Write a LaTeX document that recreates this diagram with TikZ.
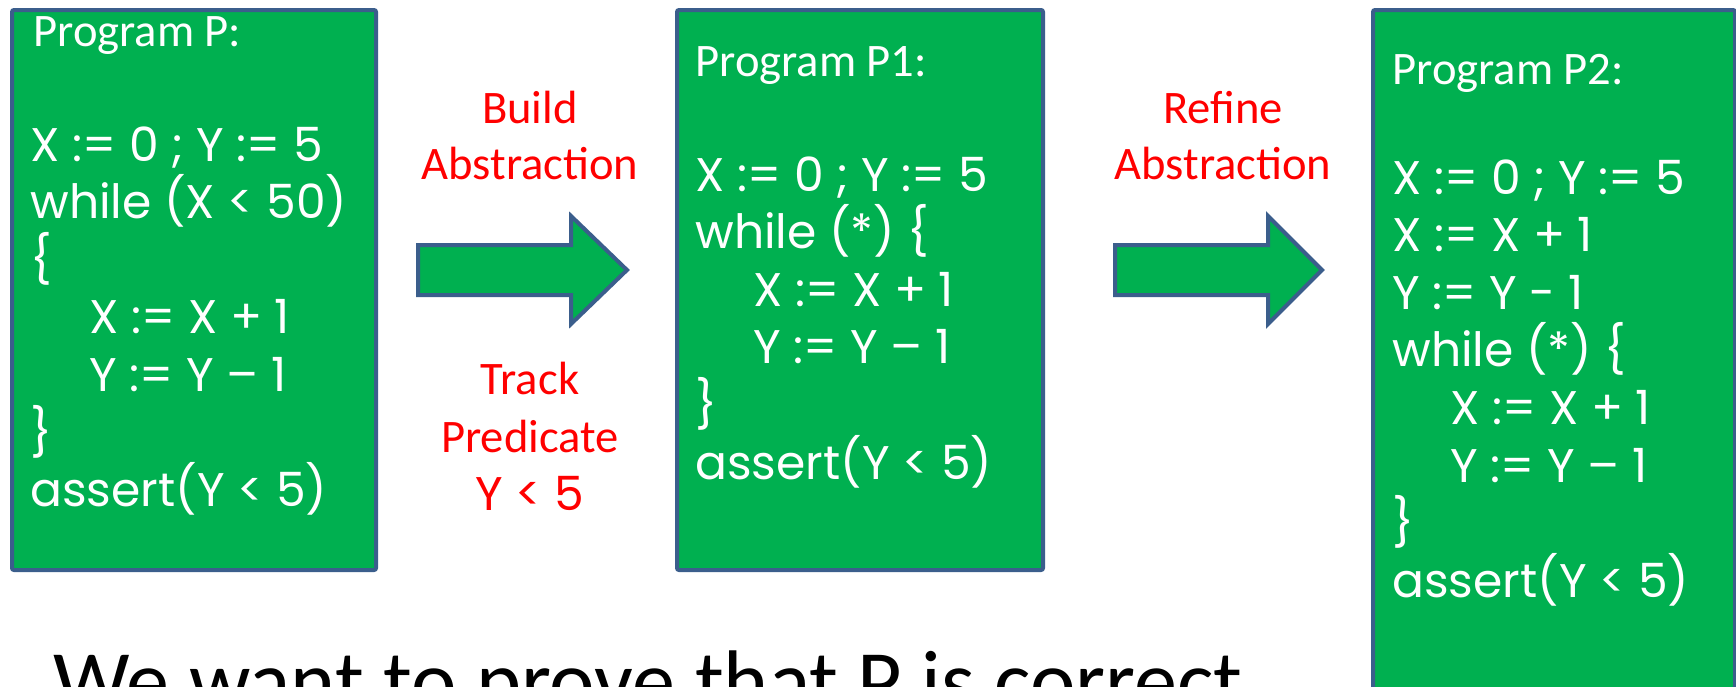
\documentclass[tikz,border=0pt]{standalone}
\usepackage{fontspec}
\setmainfont{Carlito}
\newfontfamily\codefont{Poppins}
\definecolor{boxgreen}{HTML}{00B050}
\definecolor{boxblue}{HTML}{3B5E8C}
\definecolor{labelred}{HTML}{FF0000}
\tikzset{
  prog/.style={draw=boxblue, fill=boxgreen, line width=2pt, rounded corners=1pt,
               anchor=north west, inner sep=0pt},
  title/.style={font=\fontsize{23.3}{28}\selectfont, text=white,
                anchor=base west, inner sep=0pt},
  code/.style={font=\codefont\fontsize{23.6}{28}\selectfont, text=white,
               anchor=base west, inner sep=0pt},
  steplabel/.style={font=\fontsize{23.3}{28}\selectfont, text=labelred,
                    anchor=base, inner sep=0pt},
  blockarrow/.style={draw=boxblue, fill=boxgreen, line width=2pt, line join=miter},
}
\begin{document}
\begin{tikzpicture}[x=0.5pt, y=-0.5pt]
  \useasboundingbox (0,0) rectangle (1736,686);
  \clip (0,0) rectangle (1736,686);

  % program boxes
  \node[prog, minimum width=182pt, minimum height=280pt] (boxP)  at (10,8) {};
  \node[prog, minimum width=183pt, minimum height=280pt] (boxP1) at (675,8) {};
  \node[prog, minimum width=181pt, minimum height=420pt] (boxP2) at (1371,8) {};

  % program P
  \node[title] (tP) at (33,46) {Program P:};
  \node[code] (p1) at (30,161) {X := 0 ; Y := 5};
  \node[code] (p2) at (30,218.6) {while (X < 50)};
  \node[code] (p3) at (30,276.2) {\{};
  \node[code] (p4) at (89,333.8) {X := X + 1};
  \node[code] (p5) at (89,391.4) {Y := Y – 1};
  \node[code] (p6) at (30,449) {\}};
  \node[code] (p7) at (30,506.6) {assert(Y < 5)};

  % program P1
  \node[title] (tP1) at (695,76) {Program P1:};
  \node[code] (q1) at (695,191) {X := 0 ; Y := 5};
  \node[code] (q2) at (695,248.6) {while (*) \{};
  \node[code] (q3) at (753,306.2) {X := X + 1};
  \node[code] (q4) at (753,363.8) {Y := Y – 1};
  \node[code] (q5) at (695,421.4) {\}};
  \node[code] (q6) at (695,479) {assert(Y < 5)};

  % program P2
  \node[title] (tP2) at (1392,84) {Program P2:};
  \node[code] (r1) at (1392,194) {X := 0 ; Y := 5};
  \node[code] (r2) at (1392,251.6) {X := X + 1};
  \node[code] (r3) at (1392,309.2) {Y := Y - 1};
  \node[code] (r4) at (1392,366.8) {while (*) \{};
  \node[code] (r5) at (1450,424.4) {X := X + 1};
  \node[code] (r6) at (1450,482) {Y := Y – 1};
  \node[code] (r7) at (1392,539.6) {\}};
  \node[code] (r8) at (1392,597.2) {assert(Y < 5)};

  % block arrows between the programs
  \draw[blockarrow] (418,245) -- (571,245) -- (571,216) -- (627,270)
                    -- (571,324) -- (571,295) -- (418,295) -- cycle;
  \draw[blockarrow] (1115,245) -- (1268,245) -- (1268,216) -- (1322,270)
                    -- (1268,324) -- (1268,295) -- (1115,295) -- cycle;

  % step labels
  \node[steplabel] (build)  at (530,123) {Build};
  \node[steplabel] (abs1)   at (530,179) {Abstraction};
  \node[steplabel] (track)  at (530,394) {Track};
  \node[steplabel] (pred)   at (530,452) {Predicate};
  \node[steplabel, font=\codefont\fontsize{23.6}{28}\selectfont] (predy) at (530,510) {Y < 5};
  \node[steplabel] (refine) at (1223,123) {Refine};
  \node[steplabel] (abs2)   at (1223,179) {Abstraction};

  % statement below, running off the lower edge
  \node[anchor=base west, inner sep=0pt, font=\fontsize{43}{50}\selectfont]
    (goal) at (53,710) {We want to prove that P is correct};
\end{tikzpicture}
\end{document}
